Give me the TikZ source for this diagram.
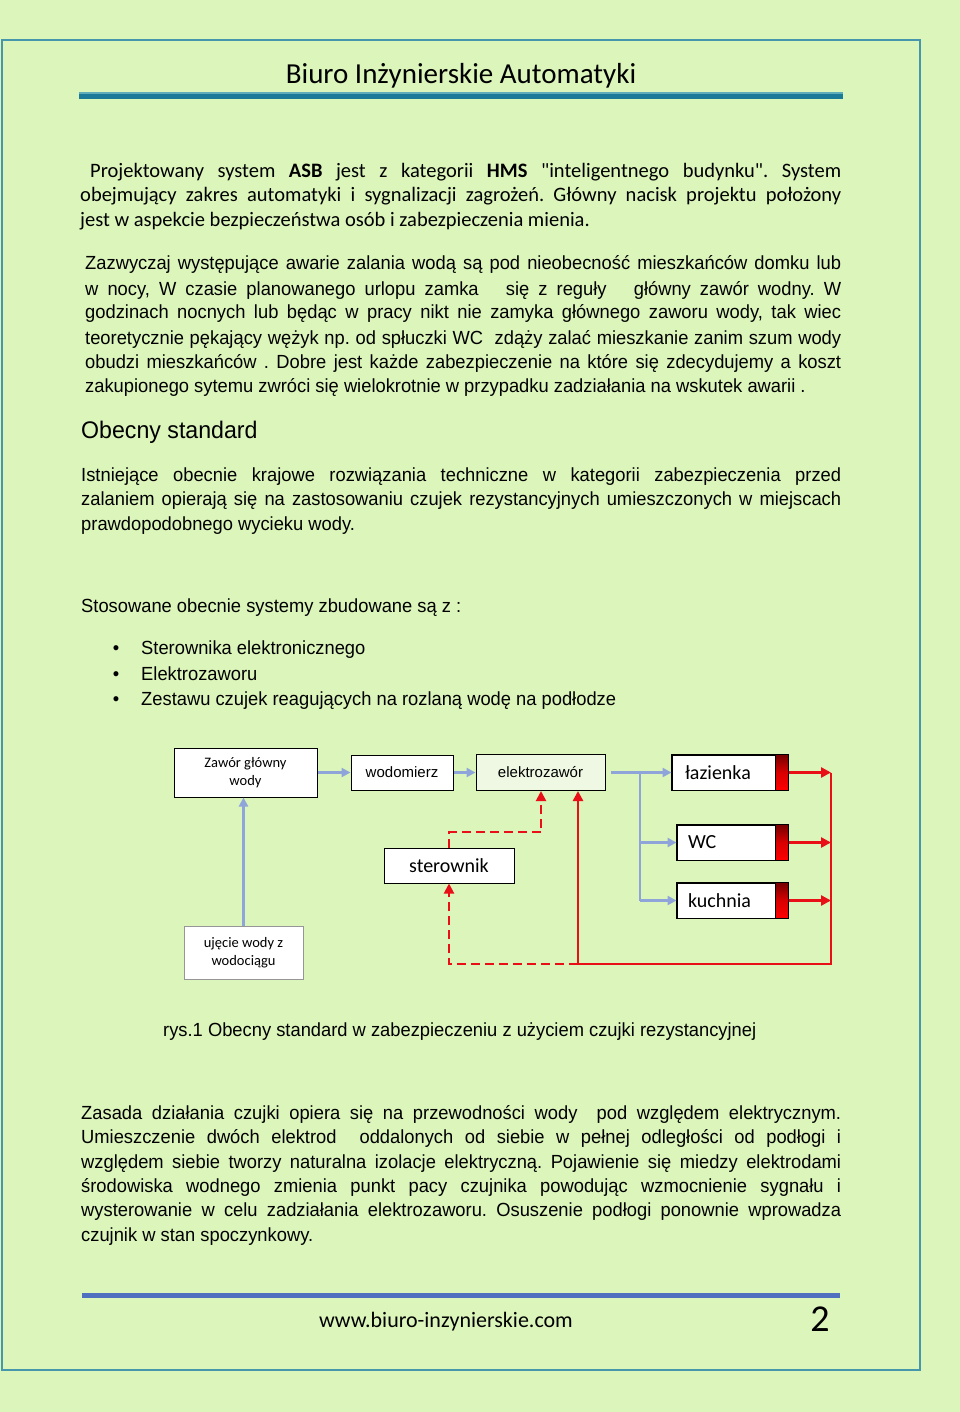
\documentclass[tikz,border=0pt]{standalone}
\usepackage{fontspec}
\setmainfont{Liberation Sans}
\newfontfamily\arialf[FakeStretch=0.965]{Liberation Sans}
\newfontfamily\corb{Carlito}
\usetikzlibrary{arrows.meta}
\frenchspacing
\definecolor{bgc}{RGB}{219,245,187}
\definecolor{framec}{RGB}{70,150,172}
\definecolor{hdark}{RGB}{27,122,152}
\definecolor{hlight}{RGB}{95,172,186}
\definecolor{footc}{RGB}{79,112,190}
\definecolor{pipe}{RGB}{143,164,217}
\definecolor{sig}{RGB}{232,16,22}
\definecolor{elfill}{RGB}{238,248,226}
\definecolor{ujgray}{RGB}{150,150,150}
\newcommand\jline[6]{\node[#1,anchor=base west] (#2) at (#3,#4) {\makebox[#5pt][s]{#6}};}
\newcommand\nline[5]{\node[#1,anchor=base west] (#2) at (#3,#4) {#5};}
\tikzset{
  body/.style={inner sep=0,font=\arialf\fontsize{19}{24}\selectfont},
  cbody/.style={inner sep=0,font=\corb\fontsize{20.5}{24}\selectfont},
  heading/.style={inner sep=0,font=\arialf\fontsize{24}{28}\selectfont},
  dbox/.style={draw=black,line width=1pt,fill=white,inner sep=0,align=center},
  pipeline/.style={draw=pipe,line width=2.5pt},
  pipearrow/.style={pipeline,-{Triangle[length=9pt,width=9pt]}},
  sigline/.style={draw=sig,line width=2.8pt},
  sigarrow/.style={sigline,-{Triangle[length=10pt,width=10pt]}},
  sigdash/.style={draw=sig,line width=2pt,dash pattern=on 9pt off 5pt},
  sigdasharrow/.style={sigdash,-{Triangle[length=10pt,width=10pt]}},
}
\begin{document}
\begin{tikzpicture}[x=1pt,y=-1pt]
\fill[bgc] (0,0) rectangle (960,1412);
\useasboundingbox (0,0) rectangle (960,1412);
\draw[framec,line width=1.2pt] (2,40) rectangle (920,1370);

% header
\node[inner sep=0,anchor=base,font=\corb\fontsize{29}{32}\selectfont] (title) at (461,84) {Biuro Inżynierskie Automatyki};
\fill[hlight] (79,92.5) rectangle (843,94.5);
\fill[hdark] (79,94.5) rectangle (843,99);

% paragraph 1
\jline{cbody}{p1a}{90}{178}{751}{Projektowany system \textbf{ASB} jest z kategorii \textbf{HMS} "inteligentnego budynku". System}
\jline{cbody}{p1b}{80}{202}{761}{obejmujący zakres automatyki i sygnalizacji zagrożeń. Główny nacisk projektu położony}
\nline{cbody}{p1c}{80}{227}{jest w aspekcie bezpieczeństwa osób i zabezpieczenia mienia.}

% paragraph 2
\jline{body}{p2a}{85}{270}{756}{Zazwyczaj występujące awarie zalania wodą są pod nieobecność mieszkańców domku lub}
\jline{body}{p2b}{85}{295}{756}{w nocy, W czasie planowanego urlopu zamka\ \ \ się z reguły\ \ \ główny zawór wodny. W}
\jline{body}{p2c}{85}{319}{756}{godzinach nocnych lub będąc w pracy nikt nie zamyka głównego zaworu wody, tak wiec}
\jline{body}{p2d}{85}{344}{756}{teoretycznie pękający wężyk np. od spłuczki WC\ \ zdąży zalać mieszkanie zanim szum wody}
\jline{body}{p2e}{85}{368}{756}{obudzi mieszkańców . Dobre jest każde zabezpieczenie na które się zdecydujemy a koszt}
\nline{body}{p2f}{85}{392}{zakupionego sytemu zwróci się wielokrotnie w przypadku zadziałania na wskutek awarii .}

% heading
\nline{heading}{h1}{81}{438}{Obecny standard}

% paragraph 3
\jline{body}{p3a}{81}{481}{760}{Istniejące obecnie krajowe rozwiązania techniczne w kategorii zabezpieczenia przed}
\jline{body}{p3b}{81}{505}{760}{zalaniem opierają się na zastosowaniu czujek rezystancyjnych umieszczonych w miejscach}
\nline{body}{p3c}{81}{530}{prawdopodobnego wycieku wody.}

\nline{body}{st}{81}{612}{Stosowane obecnie systemy zbudowane są z :}
\node[body,anchor=base] (b1) at (116,654) {•};
\node[body,anchor=base] (b2) at (116,680) {•};
\node[body,anchor=base] (b3) at (116,705) {•};
\nline{body}{l1}{141}{654}{Sterownika elektronicznego}
\nline{body}{l2}{141}{680}{Elektrozaworu}
\nline{body}{l3}{141}{705}{Zestawu czujek reagujących na rozlaną wodę na podłodze}

% diagram
\node[dbox,minimum width=143pt,minimum height=49pt,font=\corb\fontsize{14.5}{18}\selectfont] (zawor) at (245.5,772.5) {Zawór główny\\wody};
\node[dbox,minimum width=102pt,minimum height=35pt,font=\fontsize{15}{18}\selectfont] (wodom) at (402,772.5) {wodomierz};
\node[dbox,fill=elfill,minimum width=129pt,minimum height=36pt,font=\fontsize{15}{18}\selectfont] (elektro) at (540.5,772.5) {elektrozawór};
\node[dbox,minimum width=130pt,minimum height=35pt,font=\corb\fontsize{20}{24}\selectfont] (ster) at (449,865.5) {sterownik};
\node[dbox,draw=ujgray,minimum width=119pt,minimum height=53pt,font=\corb\fontsize{14.5}{18}\selectfont] (uj) at (243.5,952.5) {ujęcie wody z\\wodociągu};

\node[dbox,minimum width=116pt,minimum height=35pt,font=\corb\fontsize{20}{24}\selectfont] (laz) at (730,772.5) {\makebox[90pt][l]{łazienka}};
\node[dbox,minimum width=111pt,minimum height=35pt,font=\corb\fontsize{20}{24}\selectfont] (wc) at (732.5,842.5) {\makebox[89pt][l]{WC}};
\node[dbox,minimum width=111pt,minimum height=35pt,font=\corb\fontsize{20}{24}\selectfont] (kuch) at (732.5,900.5) {\makebox[89pt][l]{kuchnia}};
\foreach \n in {laz,wc,kuch}{
  \shade[top color=red!45!black,bottom color=red,middle color=red!85!black] ([xshift=-13pt]\n.north east) rectangle (\n.south east);
  \draw[line width=1pt] ([xshift=-13pt]\n.north east) -- ([xshift=-13pt]\n.south east);
  \draw[line width=1pt] (\n.north west) rectangle (\n.south east);
}

% water pipes
\coordinate (bx) at (640,772.5);
\draw[pipearrow] (uj.north) -- (uj.north |- zawor.south);
\draw[pipearrow] (zawor.east) -- (wodom.west);
\draw[pipearrow] (wodom.east) -- (elektro.west);
\draw[pipeline] ([xshift=5pt]elektro.east) -- (bx) -- (bx |- kuch.west);
\draw[pipearrow] (bx) -- (laz.west);
\draw[pipearrow] (bx |- wc.west) -- (wc.west);
\draw[pipearrow] (bx |- kuch.west) -- (kuch.west);

% signals
\coordinate (bus) at (831,772.5);
\coordinate (rb) at (831,964);
\coordinate (ra) at (578,964);
\coordinate (da) at (449,964);
\coordinate (dc) at (541,832);
\draw[sigarrow] (laz.east) -- (laz.east -| bus);
\draw[sigarrow] (wc.east) -- (wc.east -| bus);
\draw[sigarrow] (kuch.east) -- (kuch.east -| bus);
\draw[sigline] (bus) -- (rb) -- (ra);
\draw[sigarrow] (ra) -- (ra |- elektro.south);
\draw[sigdasharrow] (ra) -- (da) -- (ster.south);
\draw[sigdasharrow] (ster.north) -- (ster.north |- dc) -- (dc) -- (dc |- elektro.south);

% caption
\nline{body}{cap}{163}{1036}{rys.1 Obecny standard w zabezpieczeniu z użyciem czujki rezystancyjnej}

% paragraph 4
\jline{body}{p4a}{81}{1119}{760}{Zasada działania czujki opiera się na przewodności wody\ \ pod względem elektrycznym.}
\jline{body}{p4b}{81}{1143}{760}{Umieszczenie dwóch elektrod\ \ oddalonych od siebie w pełnej odległości od podłogi i}
\jline{body}{p4c}{81}{1168}{760}{względem siebie tworzy naturalna izolacje elektryczną. Pojawienie się miedzy elektrodami}
\jline{body}{p4d}{81}{1192}{760}{środowiska wodnego zmienia punkt pacy czujnika powodując wzmocnienie sygnału i}
\jline{body}{p4e}{81}{1216}{760}{wysterowanie w celu zadziałania elektrozaworu. Osuszenie podłogi ponownie wprowadza}
\nline{body}{p4f}{81}{1241}{czujnik w stan spoczynkowy.}

% footer
\fill[footc] (82,1293) rectangle (840,1298);
\node[inner sep=0,anchor=base,font=\corb\fontsize{22}{26}\selectfont] (url) at (446,1327) {www.biuro-inzynierskie.com};
\node[inner sep=0,anchor=base,font=\corb\fontsize{38}{40}\selectfont] (pg) at (820,1331) {2};
\end{tikzpicture}
\end{document}
